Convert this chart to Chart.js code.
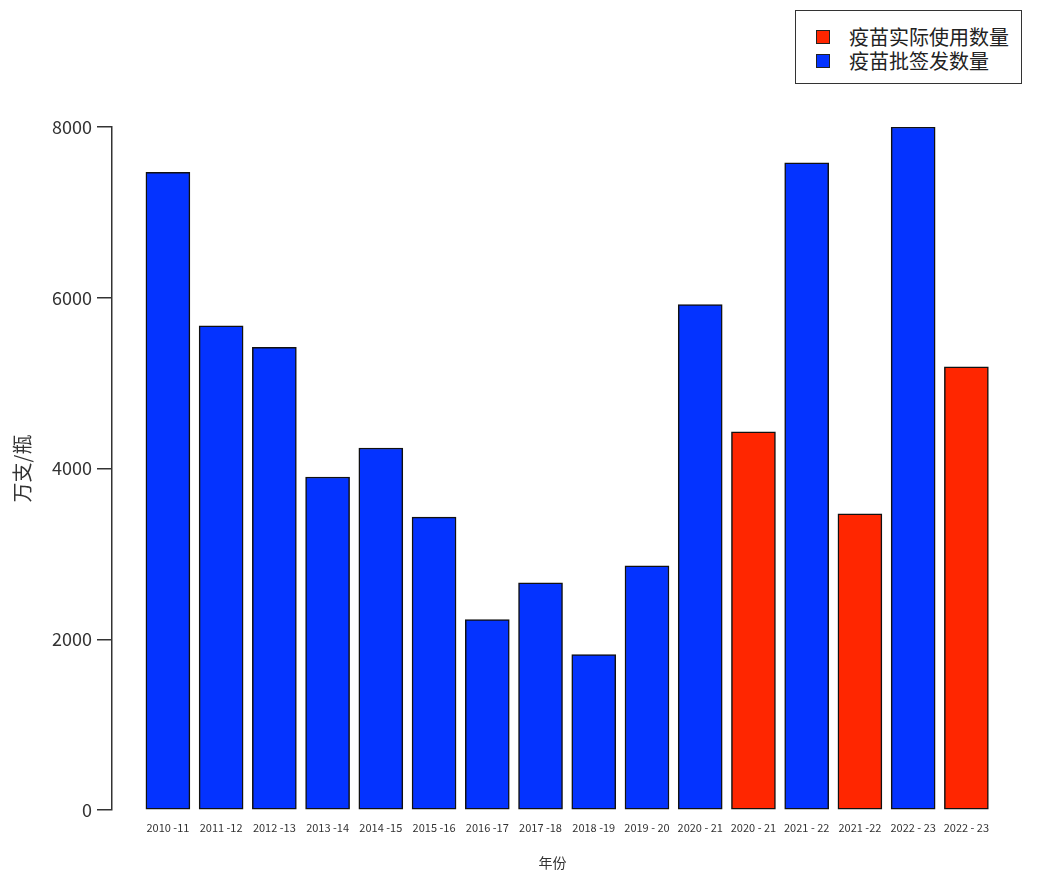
<!DOCTYPE html>
<html>
<head>
<meta charset="utf-8">
<script src="https://cdn.jsdelivr.net/npm/chart.js@4"></script>
<style>
  body { margin: 0; background: #fff; }
  #wrap { position: relative; width: 1037px; height: 884px; }
  #legend {
    position: absolute; left: 795px; top: 10px; width: 225px; height: 72px;
    border: 1.5px solid #333; background: #fff;
    font-family: "Noto Sans CJK SC", sans-serif; font-size: 20px; color: #222;
  }
  .item { position: absolute; left: 20px; height: 24px; line-height: 24px; }
  .item i { position: absolute; left: 0; top: 5px; width: 12px; height: 12px; border: 1px solid #222; }
  .item span { position: absolute; left: 33px; white-space: nowrap; }
</style>
</head>
<body>
<div id="wrap">
  <canvas id="c" width="1037" height="884"></canvas>
  <div id="legend"></div>
</div>
<script>
const categories = ["2010 -11", "2011 -12", "2012 -13", "2013 -14", "2014 -15", "2015 -16",
  "2016 -17", "2017 -18", "2018 -19", "2019 - 20", "2020 - 21", "2020 - 21",
  "2021 - 22", "2021 -22", "2022 - 23", "2022 - 23"];
const usedName = "疫苗实际使用数量";
const approvedName = "疫苗批签发数量";
const used = [null, null, null, null, null, null, null, null, null, null, null,
  4430, null, 3470, null, 5190];
const approved = [7470, 5670, 5420, 3900, 4240, 3430, 2230, 2660, 1820, 2860, 5920,
  null, 7580, null, 8000, null];
const yTicks = [0, 2000, 4000, 6000, 8000];
const red = "#FF2600";
const blue = "#0433FF";

const font = "'Noto Sans CJK SC', sans-serif";
const toPoints = arr => arr.map((y, i) => ({ x: i, y }));

const barStyle = { borderColor: "#111", borderWidth: 1.5, borderSkipped: false, barThickness: 44, grouped: false };

new Chart(document.getElementById("c"), {
  type: "bar",
  data: {
    datasets: [
      Object.assign({ label: usedName, data: toPoints(used), backgroundColor: red }, barStyle),
      Object.assign({ label: approvedName, data: toPoints(approved), backgroundColor: blue }, barStyle)
    ]
  },
  options: {
    responsive: false,
    animation: false,
    layout: { padding: { top: 127, right: 44, left: 0, bottom: 0 } },
    plugins: { legend: { display: false }, tooltip: { enabled: false } },
    scales: {
      x: {
        type: "linear",
        min: -1.05,
        max: 15.5,
        offset: false,
        grid: { display: false, offset: false },
        border: { display: false },
        afterBuildTicks: s => { s.ticks = categories.map((_, i) => ({ value: i })); },
        afterFit: s => { s.height = 74; },
        ticks: {
          autoSkip: false, maxRotation: 0, padding: 3,
          color: "#333", font: { family: font, size: 11 },
          callback: v => categories[v]
        },
        title: {
          display: true, text: "年份", color: "#333",
          font: { family: font, size: 14 }, padding: { top: 0, bottom: 13 }
        }
      },
      y: {
        min: 0,
        max: 8000,
        afterBuildTicks: s => { s.ticks = yTicks.map(v => ({ value: v })); },
        afterFit: s => { s.width = 112; },
        grid: { drawOnChartArea: false, drawTicks: true, tickLength: 15, color: "#333", lineWidth: 1.5 },
        border: { display: true, color: "#333", width: 1.5 },
        ticks: { padding: 5, color: "#333", font: { family: font, size: 18 }, callback: v => String(v) },
        title: {
          display: true, text: "万支/瓶", color: "#333",
          font: { family: font, size: 20 }, padding: { top: 10, bottom: 0 }
        }
      }
    }
  }
});

const legend = document.getElementById("legend");
[[usedName, red], [approvedName, blue]].forEach(([name, color], k) => {
  const d = document.createElement("div");
  d.className = "item";
  d.style.top = (14 + k * 24) + "px";
  d.innerHTML = '<i style="background:' + color + '"></i><span>' + name + '</span>';
  legend.appendChild(d);
});
</script>
</body>
</html>
